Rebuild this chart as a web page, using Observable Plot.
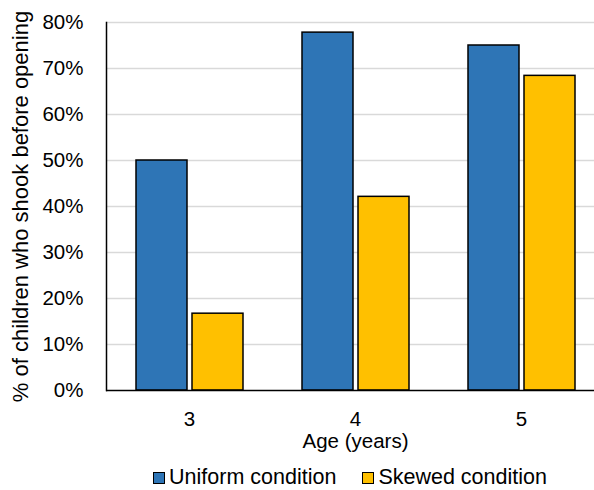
<!DOCTYPE html>
<html>
<head>
<meta charset="utf-8">
<script src="https://cdn.jsdelivr.net/npm/d3@7"></script>
<script src="https://cdn.jsdelivr.net/npm/@observablehq/plot@0.6"></script>
<style>
  html, body { margin: 0; padding: 0; background: #fff; overflow: hidden; }
  #wrap { width: 594px; font-family: "Liberation Sans", Arial, Helvetica, sans-serif; }
  #chart { width: 594px; overflow: hidden; }
  #chart svg { display: block; max-width: none !important; }
  #legend { display: flex; justify-content: center; align-items: center; font-size: 21.5px; color: #000; margin-left: 106px; width: 488px; height: 25px; margin-top: 13px; }
  .item { display: flex; align-items: center; margin: 0 13px; }
  .sw { width: 10px; height: 10px; border: 1.5px solid #000; margin-right: 4px; }
</style>
</head>
<body>
<div id="wrap"><div id="chart"></div><div id="legend"></div></div>
<script>
const ages = ["3", "4", "5"];
const conditions = ["Uniform condition", "Skewed condition"];
const uniformValues = [0.50, 0.778, 0.75];
const skewedValues = [0.167, 0.421, 0.684];
const colors = ["#2e75b6", "#ffc000"];
const yTicks = [0, 0.1, 0.2, 0.3, 0.4, 0.5, 0.6, 0.7, 0.8];

const data = [];
ages.forEach((a, i) => {
  data.push({age: a, condition: conditions[0], value: uniformValues[i]});
  data.push({age: a, condition: conditions[1], value: skewedValues[i]});
});

const font = '"Liberation Sans", Arial, Helvetica, sans-serif';

const chart = Plot.plot({
  width: 604,
  height: 452,
  marginLeft: 106,
  marginRight: 0,
  marginTop: 22,
  marginBottom: 62,
  style: {fontFamily: font, fontSize: "20.5px", color: "#000", background: "#fff", overflow: "visible"},
  fx: {domain: ages, paddingInner: 0, paddingOuter: 0, label: null},
  x: {domain: conditions, paddingInner: 0.09, paddingOuter: 0.526, axis: null},
  y: {domain: [0, 0.8], label: null},
  color: {domain: conditions, range: colors},
  marks: [
    Plot.ruleY(yTicks.filter(d => d > 0), {stroke: "#d9d9d9", strokeWidth: 1.5}),
    Plot.barY(data, {fx: "age", x: "condition", y: "value", fill: "condition", stroke: "#000", strokeWidth: 1.5}),
    Plot.axisY(yTicks, {tickFormat: d3.format(".0%"), tickSize: 0, tickPadding: 23, fontSize: 20.5, label: null}),
    Plot.axisY({ticks: [], tickSize: 0, fontSize: 22, label: "% of children who shook before opening", labelAnchor: "center", labelArrow: "none", labelOffset: 94}),
    Plot.axisFx({anchor: "bottom", tickSize: 0, tickPadding: 21, fontSize: 20.5, label: "Age (years)", labelAnchor: "center", labelArrow: "none", labelOffset: 57}),
    Plot.ruleY([0], {stroke: "#000", strokeWidth: 1.5}),
    Plot.frame({anchor: "left", stroke: "#000", strokeWidth: 1.5, facet: "super"})
  ]
});
document.getElementById("chart").appendChild(chart);

const legend = document.getElementById("legend");
conditions.forEach((c, i) => {
  const item = document.createElement("div");
  item.className = "item";
  const sw = document.createElement("span");
  sw.className = "sw";
  sw.style.background = colors[i];
  const t = document.createElement("span");
  t.textContent = c;
  item.appendChild(sw);
  item.appendChild(t);
  legend.appendChild(item);
});
</script>
</body>
</html>
